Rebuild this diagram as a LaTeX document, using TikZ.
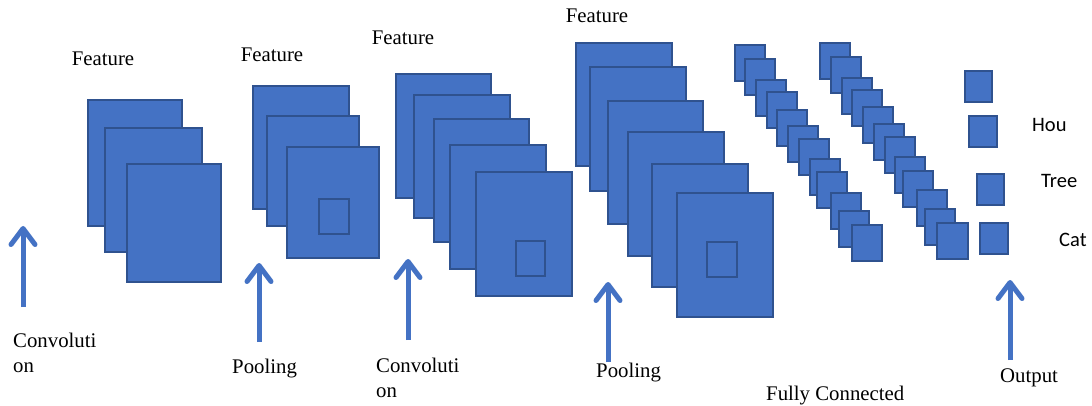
\documentclass[tikz,border=0pt]{standalone}
\usepackage{fontspec}
\setmainfont{Liberation Serif}
\newfontfamily\labsans{Carlito}
\usetikzlibrary{fit,arrows.meta}
\definecolor{fmfill}{HTML}{4472C4}
\definecolor{fmline}{HTML}{2F528F}
\tikzset{
  fmap/.style={draw=fmline, fill=fmfill, line width=2.3pt, inner sep=0pt, outer sep=0pt},
  upar/.style={draw=fmfill, line width=5pt, -{Straight Barb[length=16pt,width=24pt,line cap=round,line join=round]}},
  lab/.style={font=\fontsize{20.8}{25}\selectfont, inner sep=0pt, anchor=base west},
  labc/.style={font=\fontsize{20.8}{25}\selectfont, inner sep=0pt, anchor=base},
  cls/.style={font=\labsans\fontsize{20.5}{24}\selectfont, inner sep=0pt, anchor=base west}
}
\newcommand{\fmbox}[5]{\node[fmap, fit={(#2,#3) (#4,#5)}] (#1) {};}
\begin{document}
\begin{tikzpicture}[x=1pt,y=-1pt]
\path[use as bounding box, fill=white] (0,0) rectangle (1092,406);
% stack 1
\fmbox{s1a}{88}{100}{182}{226}
\fmbox{s1b}{105}{128}{202}{252}
\fmbox{s1c}{127}{164}{221}{282}
% stack 2
\fmbox{s2a}{253}{86}{349}{209}
\fmbox{s2b}{267}{116}{359}{226}
\fmbox{s2c}{287}{147}{379}{258}
\fmbox{s2k}{319}{199}{349}{234}
% stack 3
\fmbox{s3a}{396}{74}{491}{198}
\fmbox{s3b}{414}{95}{510}{218}
\fmbox{s3c}{434}{119}{529}{242}
\fmbox{s3d}{450}{145}{546}{269}
\fmbox{s3e}{476}{172}{572}{296}
\fmbox{s3k}{516}{241}{545}{276}
% stack 4
\fmbox{s4a}{576}{43}{672}{166}
\fmbox{s4b}{590}{67}{686}{191}
\fmbox{s4c}{608}{101}{703}{224}
\fmbox{s4d}{628}{132}{724}{256}
\fmbox{s4e}{652}{164}{748}{287}
\fmbox{s4f}{677}{193}{773}{317}
\fmbox{s4k}{707}{242}{737}{277}
% fully connected chain 1
\fmbox{fa1}{735}{45}{765}{81}
\fmbox{fa2}{745}{59}{775}{95}
\fmbox{fa3}{756}{80}{786}{116}
\fmbox{fa4}{767}{92}{797}{128}
\fmbox{fa5}{777}{110}{807}{146}
\fmbox{fa6}{788}{126}{818}{162}
\fmbox{fa7}{799}{139}{829}{175}
\fmbox{fa8}{810}{159}{840}{195}
\fmbox{fa9}{817}{172}{847}{208}
\fmbox{fa10}{831}{193}{861}{229}
\fmbox{fa11}{839}{211}{869}{247}
\fmbox{fa12}{852}{225}{882}{261}
% fully connected chain 2
\fmbox{fb1}{820}{43}{850}{79}
\fmbox{fb2}{831}{57}{861}{93}
\fmbox{fb3}{842}{78}{872}{114}
\fmbox{fb4}{852}{90}{882}{126}
\fmbox{fb5}{863}{107}{893}{143}
\fmbox{fb6}{874}{124}{904}{160}
\fmbox{fb7}{885}{137}{915}{173}
\fmbox{fb8}{895}{157}{925}{193}
\fmbox{fb9}{903}{171}{933}{207}
\fmbox{fb10}{917}{190}{947}{226}
\fmbox{fb11}{925}{209}{955}{245}
\fmbox{fb12}{937}{223}{968}{259}
% outputs
\fmbox{o1}{965}{71}{992}{102}
\fmbox{o2}{969}{116}{997}{147}
\fmbox{o3}{977}{174}{1004}{205}
\fmbox{o4}{980}{223}{1008}{254}
% arrows
\coordinate (a1t) at (23,307); \coordinate (a1h) at (23,226);
\coordinate (a2t) at (259,342); \coordinate (a2h) at (259,263);
\coordinate (a3t) at (408,340); \coordinate (a3h) at (408,259);
\coordinate (a4t) at (608,362); \coordinate (a4h) at (608,282);
\coordinate (a5t) at (1010,360); \coordinate (a5h) at (1010,280);
\draw[upar] (a1t) -- (a1h);
\draw[upar] (a2t) -- (a2h);
\draw[upar] (a3t) -- (a3h);
\draw[upar] (a4t) -- (a4h);
\draw[upar] (a5t) -- (a5h);
% labels
\node[labc] (ft1) at (103,66) {Feature};
\node[labc] (ft2) at (272,62) {Feature};
\node[labc] (ft3) at (403,45) {Feature};
\node[labc] (ft4) at (597,23) {Feature};
\node[lab] (cv1a) at (13,347) {Convoluti};
\node[lab] (cv1b) at (13,372) {on};
\node[lab] (pl1) at (232,373) {Pooling};
\node[lab] (cv2a) at (376,372) {Convoluti};
\node[lab] (cv2b) at (376,397) {on};
\node[lab] (pl2) at (596,377) {Pooling};
\node[lab] (fc) at (766,400) {Fully Connected};
\node[lab] (out) at (1000,382) {Output};
\node[cls] (hou) at (1032,132) {Hou};
\node[cls] (tree) at (1041,188) {Tree};
\node[cls] (cat) at (1059,247) {Cat};
\end{tikzpicture}
\end{document}
